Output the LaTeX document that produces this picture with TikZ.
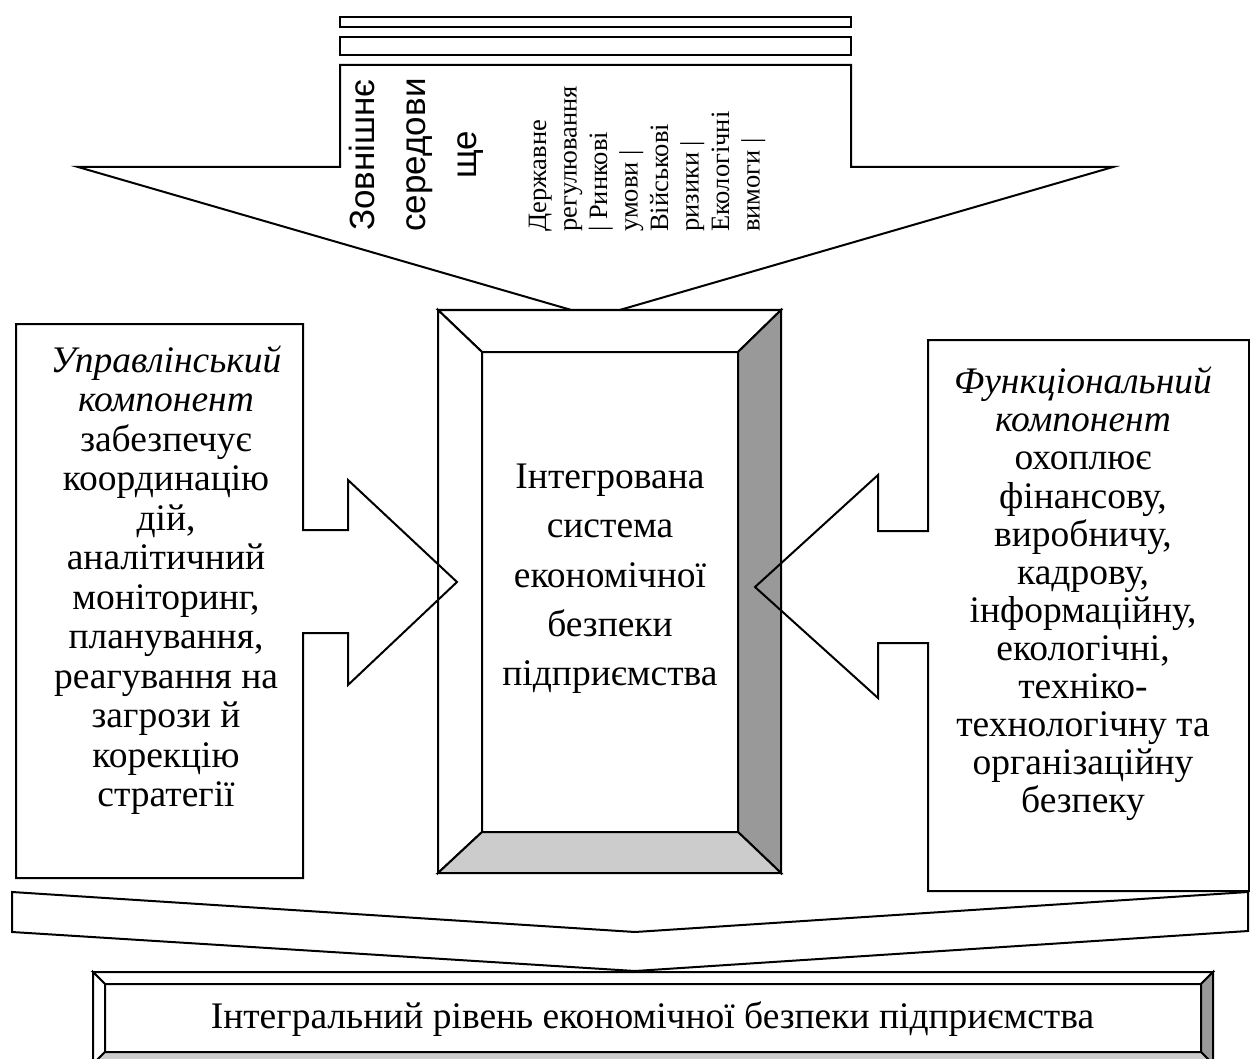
\documentclass[tikz,border=0pt]{standalone}
\usepackage{fontspec}
\setmainfont{Liberation Serif}
\newfontfamily\arialfont{Liberation Sans}
\tikzset{
  outl/.style={draw=black, line width=2pt, line join=miter},
  lefttext/.style={font=\fontsize{37.5}{39.5}\selectfont, align=center, inner sep=0pt},
  righttext/.style={font=\fontsize{37.5}{38.1}\selectfont, align=center, inner sep=0pt},
  centertext/.style={font=\fontsize{37.5}{49.3}\selectfont, align=center, inner sep=0pt},
  bigsans/.style={font=\arialfont\fontsize{35}{51}\selectfont, align=center, inner sep=0pt},
  smallserif/.style={font=\fontsize{26.5}{30.5}\selectfont, align=left, inner sep=0pt},
}
\begin{document}
\begin{tikzpicture}[x=1pt,y=-1pt]
\useasboundingbox (0,0) rectangle (1250,1059);
\clip (0,0) rectangle (1250,1059);

% top strips and callout
\draw[outl] (340,17) rectangle (851,27);
\draw[outl] (340,37) rectangle (851,55);
\draw[outl, fill=white] (340,65) -- (851,65) -- (851,167) -- (1113,167)
  -- (595.5,317) -- (78,167) -- (340,167) -- cycle;
\node[bigsans, rotate=90] (env) at (416,155) {Зовнішнє\\середови\\ще};
\node[smallserif, rotate=90, anchor=west] (factors) at (647,232)
  {Державне\\регулювання\\| Ринкові\\умови |\\Військові\\ризики |\\Екологічні\\вимоги |};

% central bevel box
\filldraw[outl, fill=white] (438,310) -- (781,310) -- (738,352) -- (482,352) -- cycle;
\filldraw[outl, fill=white] (438,310) -- (482,352) -- (482,832) -- (438,873) -- cycle;
\filldraw[outl, fill=black!40] (781,310) -- (781,873) -- (738,832) -- (738,352) -- cycle;
\filldraw[outl, fill=black!20] (438,873) -- (781,873) -- (738,832) -- (482,832) -- cycle;
\draw[outl] (482,352) rectangle (738,832);
\node[centertext] (core) at (610,579)
  {Інтегрована\\система\\економічної\\безпеки\\підприємства};

% left callout
\draw[outl] (16,324) -- (303,324) -- (303,530) -- (348,530) -- (348,480)
  -- (457,582) -- (348,685) -- (348,633) -- (303,633) -- (303,878) -- (16,878) -- cycle;
\node[lefttext] (mgmt) at (166,580)
  {\textit{Управлінський}\\\textit{компонент}\\забезпечує\\координацію\\дій,\\аналітичний\\моніторинг,\\планування,\\реагування на\\загрози й\\корекцію\\стратегії};

% right callout
\draw[outl] (928,340) -- (1249,340) -- (1249,891) -- (928,891) -- (928,643)
  -- (878,643) -- (878,698) -- (755,587) -- (878,475) -- (878,531) -- (928,531) -- cycle;
\node[righttext] (func) at (1083,594)
  {\textit{Функціональний}\\\textit{компонент}\\охоплює\\фінансову,\\виробничу,\\кадрову,\\інформаційну,\\екологічні,\\техніко-\\технологічну та\\організаційну\\безпеку};

% bottom chevron
\draw[outl, fill=white] (12,892) -- (635,932) -- (1248,892) -- (1248,931)
  -- (635,971) -- (12,932) -- cycle;

% bottom bevel box
\filldraw[outl, fill=white] (93,972) -- (1213,972) -- (1201,984) -- (105,984) -- cycle;
\filldraw[outl, fill=white] (93,972) -- (105,984) -- (105,1052) -- (93,1064) -- cycle;
\filldraw[outl, fill=black!40] (1213,972) -- (1213,1064) -- (1201,1052) -- (1201,984) -- cycle;
\filldraw[outl, fill=black!20] (93,1064) -- (1213,1064) -- (1201,1052) -- (105,1052) -- cycle;
\draw[outl] (105,984) rectangle (1201,1052);
\node[font=\fontsize{37.5}{40}\selectfont, inner sep=0pt, anchor=base] (result) at (652.5,1028)
  {Інтегральний рівень економічної безпеки підприємства};
\end{tikzpicture}
\end{document}
